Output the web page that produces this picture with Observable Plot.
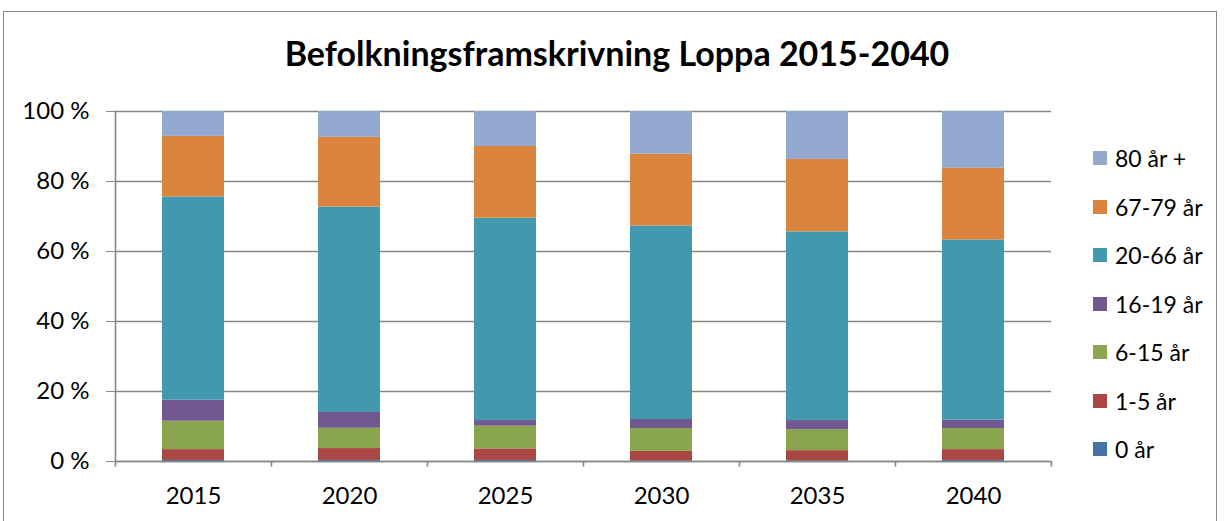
<!DOCTYPE html>
<html>
<head>
<meta charset="utf-8">
<script src="https://cdn.jsdelivr.net/npm/d3@7"></script>
<script src="https://cdn.jsdelivr.net/npm/@observablehq/plot@0.6"></script>
<style>
  html, body { margin: 0; padding: 0; background: #fff; }
  #wrap { position: relative; width: 1229px; height: 521px; overflow: hidden; font-family: Lato, "Open Sans", sans-serif; }
  #border { position: absolute; left: 3px; top: 11px; width: 1214px; height: 600px; border: 1.5px solid #8a8a8a; box-sizing: border-box; }
  #title { position: absolute; left: 0; width: 1234px; top: 33px; text-align: center; font-size: 34px; font-weight: bold; color: #000; line-height: 40px; }
  #chart { position: absolute; left: 0; top: 0; }
  #legend { position: absolute; left: 1093px; top: 0; }
  .li { position: absolute; left: 0; white-space: nowrap; font-size: 23px; color: #000; display: flex; align-items: center; }
  .sw { width: 14px; height: 14px; margin-right: 8px; }
</style>
</head>
<body>
<div id="wrap">
  <div id="border"></div>
  <div id="chart"></div>
  <div id="title">Befolkningsframskrivning Loppa 2015-2040</div>
  <div id="legend"></div>
</div>
<script>
// Data (percent shares)
const years = ["2015", "2020", "2025", "2030", "2035", "2040"];
const groups = ["0 år", "1-5 år", "6-15 år", "16-19 år", "20-66 år", "67-79 år", "80 år +"];
const colors = ["#4572A7", "#AA4643", "#89A54E", "#71588F", "#4198AF", "#DB843D", "#93A9CF"];
const v0 = [0.3, 0.3, 0.3, 0.2, 0.2, 0.3];
const v1_5 = [3.1, 3.4, 3.3, 2.7, 2.9, 3.1];
const v6_15 = [8.1, 5.8, 6.5, 6.5, 6.0, 6.0];
const v16_19 = [6.0, 4.5, 1.6, 2.6, 2.6, 2.4];
const v20_66 = [58.1, 58.7, 57.8, 55.3, 53.9, 51.5];
const v67_79 = [17.3, 19.9, 20.5, 20.5, 20.7, 20.5];
const v80 = [7.1, 7.4, 10.0, 12.2, 13.7, 16.2];
const yTicks = [0, 0.2, 0.4, 0.6, 0.8, 1.0];

const series = [v0, v1_5, v6_15, v16_19, v20_66, v67_79, v80];
const rows = [];
groups.forEach((g, gi) => years.forEach((y, yi) => rows.push({year: y, group: g, value: series[gi][yi]})));

const W = 1229, H = 521;
const mL = 115, mR = 178, mT = 111, mB = 60;
const half = (W - mL - mR) / years.length / 2;
const gridColor = "#868686";

const plot = Plot.plot({
  width: W, height: H,
  marginLeft: mL, marginRight: mR, marginTop: mT, marginBottom: mB,
  style: { fontFamily: "Lato, 'Open Sans', sans-serif", fontSize: "24px", color: "#000", background: "transparent" },
  x: { domain: years, paddingInner: 0.6, paddingOuter: 0.3, label: null },
  y: { domain: [0, 1], label: null },
  color: { domain: groups, range: colors },
  marks: [
    Plot.gridY(yTicks, { stroke: gridColor, strokeOpacity: 1, strokeWidth: 1.4 }),
    Plot.barY(rows, Plot.stackY({ offset: "normalize", order: groups }, { x: "year", y: "value", fill: "group" })),
    Plot.ruleY([0], { stroke: gridColor, strokeWidth: 1.6 }),
    Plot.frame({ anchor: "left", stroke: gridColor, strokeWidth: 1.6 }),
    Plot.ruleX(years, { x: d => d, dx: -half, y1: 0, y2: -0.016, stroke: gridColor, strokeWidth: 1.6 }),
    Plot.ruleX(years.slice(-1), { x: d => d, dx: half, y1: 0, y2: -0.016, stroke: gridColor, strokeWidth: 1.6 }),
    Plot.axisY(yTicks, { tickSize: 9, tickPadding: 17, stroke: gridColor, strokeOpacity: 1, tickFormat: d => Math.round(d * 100) + " %", fontSize: 24 }),
    Plot.axisX({ tickSize: 0, tickPadding: 25, fontSize: 24 })
  ]
});
document.getElementById("chart").appendChild(plot);

// Legend (top to bottom: reversed stack order)
const legend = document.getElementById("legend");
const legendTop = 158, legendStep = 48.5;
groups.slice().reverse().forEach((g, i) => {
  const gi = groups.indexOf(g);
  const d = document.createElement("div");
  d.className = "li";
  d.style.top = (legendTop + i * legendStep - 13) + "px";
  d.style.height = "26px";
  const s = document.createElement("span");
  s.className = "sw";
  s.style.background = colors[gi];
  const t = document.createElement("span");
  t.textContent = g;
  d.appendChild(s); d.appendChild(t);
  legend.appendChild(d);
});
</script>
</body>
</html>
